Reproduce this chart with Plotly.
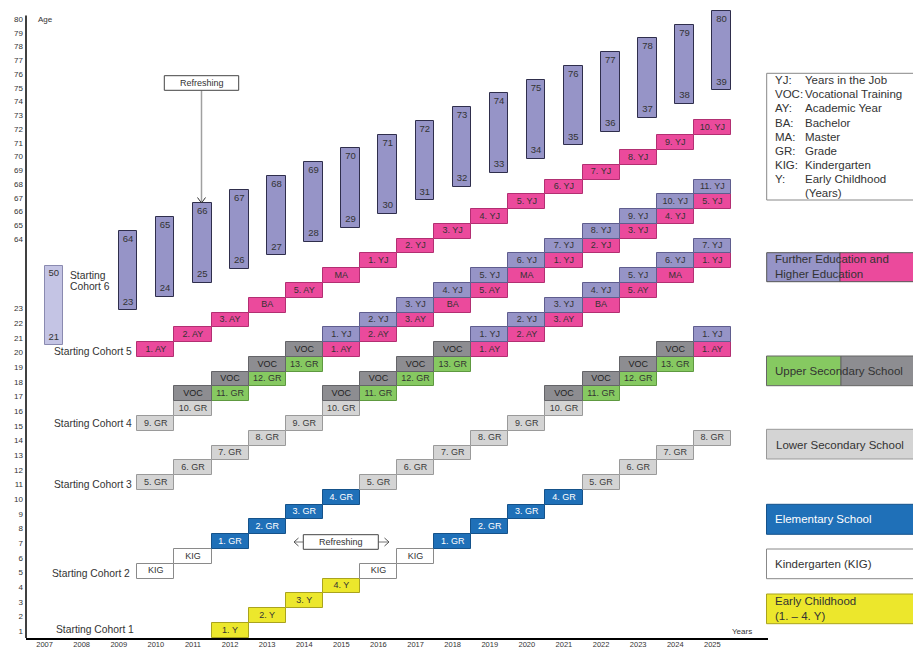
import plotly.graph_objects as go

# ---------------- data ----------------
years = [2007, 2008, 2009, 2010, 2011, 2012, 2013, 2014, 2015, 2016,
         2017, 2018, 2019, 2020, 2021, 2022, 2023, 2024, 2025]
age_ticks_low = list(range(1, 24))
age_ticks_high = list(range(64, 81))

# Cohort 1: main track starts 2012 at age 1
c1_year, c1_age = 2012, 1
c1_stages = ["1. Y", "2. Y", "3. Y", "4. Y", "KIG", "KIG", "1. GR", "2. GR",
             "3. GR", "4. GR", "5. GR", "6. GR", "7. GR", "8. GR"]

# Cohort 2
c2_year, c2_age = 2010, 5
c2_stages = ["KIG", "KIG", "1. GR", "2. GR", "3. GR", "4. GR", "5. GR", "6. GR",
             "7. GR", "8. GR", "9. GR", "10. GR", "11. GR", "12. GR", "13. GR", "1. AY"]
c2_voc_year = 2021
c2_voc_stages = ["VOC", "VOC", "VOC", "VOC", "1. YJ"]

# Cohort 3
c3_year, c3_age = 2010, 11
c3_stages = ["5. GR", "6. GR", "7. GR", "8. GR", "9. GR", "10. GR", "11. GR", "12. GR",
             "13. GR", "1. AY", "2. AY", "3. AY", "BA", "5. AY", "MA", "1. YJ"]
c3_voc_year = 2015
c3_voc_stages = ["VOC", "VOC", "VOC", "VOC", "1. YJ", "2. YJ", "3. YJ", "4. YJ",
                 "5. YJ", "6. YJ", "7. YJ"]

# Cohort 4
c4_year, c4_age = 2010, 15
c4_stages = ["9. GR", "10. GR", "11. GR", "12. GR", "13. GR", "1. AY", "2. AY", "3. AY",
             "BA", "5. AY", "MA", "1. YJ", "2. YJ", "3. YJ", "4. YJ", "5. YJ"]
c4_voc_year = 2011
c4_voc_stages = ["VOC", "VOC", "VOC", "VOC", "1. YJ", "2. YJ", "3. YJ", "4. YJ",
                 "5. YJ", "6. YJ", "7. YJ", "8. YJ", "9. YJ", "10. YJ", "11. YJ"]

# Cohort 5
c5_year, c5_age = 2010, 20
c5_stages = ["1. AY", "2. AY", "3. AY", "BA", "5. AY", "MA", "1. YJ", "2. YJ",
             "3. YJ", "4. YJ", "5. YJ", "6. YJ", "7. YJ", "8. YJ", "9. YJ", "10. YJ"]

# Cohort 6: age ranges of the working population
c6_start_year, c6_start_low, c6_start_high = 2007, 21, 50
job_years = [2009, 2010, 2011, 2012, 2013, 2014, 2015, 2016, 2017,
             2018, 2019, 2020, 2021, 2022, 2023, 2024, 2025]
job_age_low = [23, 24, 25, 26, 27, 28, 29, 30, 31, 32, 33, 34, 35, 36, 37, 38, 39]
job_age_high = [64, 65, 66, 67, 68, 69, 70, 71, 72, 73, 74, 75, 76, 77, 78, 79, 80]

abbr_keys = ["YJ:", "VOC:", "AY:", "BA:", "MA:", "GR:", "KIG:", "Y:", ""]
abbr_vals = ["Years in the Job", "Vocational Training", "Academic Year", "Bachelor",
             "Master", "Grade", "Kindergarten", "Early Childhood", "(Years)"]

# ---------------- styling / layout helpers ----------------
W, H = 913, 649
ML, MR, MT, MB = 26, 145, 7, 11
PW, PH = W - ML - MR, H - MT - MB
ROW0_PX, ROW_PX = 630.3, 14.78
Y0 = 1 - (H - MB - ROW0_PX) / ROW_PX
Y1 = Y0 + PH / ROW_PX
FONT = "Liberation Sans, Arial, sans-serif"
TXT = "#333333"

def px(x):
    return (x - ML) / PW

def py(y):
    return (H - MB - y) / PH

def row_of_px(y):
    return 1 + (ROW0_PX - y) / ROW_PX

def tick_row(a):
    if a <= 23:
        return row_of_px(631.3 - (a - 1) * 14.665)
    return row_of_px(239.0 - (a - 64) * 13.75)

STYLE = {
    "yellow": ("#ece72c", "#a9a31e", TXT),
    "white": ("#ffffff", "#8a8a8a", TXT),
    "blue": ("#1f70b8", "#15528a", "#ffffff"),
    "lgray": ("#d4d4d4", "#9a9a9a", "#3a3a3a"),
    "green": ("#86c961", "#5e9940", TXT),
    "dgray": ("#8d8d91", "#646468", "#222222"),
    "pink": ("#eb4a9c", "#b22f72", TXT),
    "lav": ("#9694c7", "#5f5d8e", TXT),
}

def kind(label, alt):
    parts = label.split()
    last = parts[-1]
    if last == "Y":
        return "yellow"
    if last == "KIG":
        return "white"
    if last == "GR":
        n = int(parts[0].rstrip("."))
        return "blue" if n <= 4 else ("lgray" if n <= 10 else "green")
    if last == "VOC":
        return "dgray"
    if last == "YJ":
        return "lav" if alt else "pink"
    return "pink"

cx, cy, ct, ck = [], [], [], []

def add_track(start_year, start_row, stages, alt):
    for i, s in enumerate(stages):
        cx.append(start_year + i)
        cy.append(start_row + i)
        ct.append(s)
        ck.append(kind(s, alt))

add_track(c1_year, c1_age, c1_stages, False)
add_track(c2_year, c2_age, c2_stages, False)
add_track(c2_voc_year, c2_age + (c2_voc_year - c2_year) + 1, c2_voc_stages, True)
add_track(c3_year, c3_age, c3_stages, False)
add_track(c3_voc_year, c3_age + (c3_voc_year - c3_year) + 1, c3_voc_stages, True)
add_track(c4_year, c4_age, c4_stages, False)
add_track(c4_voc_year, c4_age + (c4_voc_year - c4_year) + 1, c4_voc_stages, True)
add_track(c5_year, c5_age, c5_stages, False)

fig = go.Figure()

# cells
fig.add_trace(go.Bar(
    x=cx, y=[1] * len(cx), base=[r - 0.5 for r in cy], width=1,
    marker=dict(color=[STYLE[k][0] for k in ck],
                line=dict(color=[STYLE[k][1] for k in ck], width=1)),
    hoverinfo="skip", showlegend=False))
fig.add_trace(go.Scatter(
    x=cx, y=cy, text=ct, mode="text",
    textfont=dict(family=FONT, size=9, color=[STYLE[k][2] for k in ck]),
    hoverinfo="skip", showlegend=False))

# working-age bars
BAR_H = 5.38
tops = [tick_row(h) + 0.55 for h in job_age_high]
bases = [t - BAR_H for t in tops]
fig.add_trace(go.Bar(
    x=job_years, y=[BAR_H] * len(job_years), base=bases, width=0.5, offset=0,
    marker=dict(color="#9694c7", line=dict(color="#2f2e4c", width=1)),
    hoverinfo="skip", showlegend=False))
fig.add_trace(go.Scatter(
    x=[y + 0.25 for y in job_years] * 2,
    y=[t - 0.58 for t in tops] + [b + 0.55 for b in bases],
    text=[str(v) for v in job_age_high] + [str(v) for v in job_age_low],
    mode="text", textfont=dict(family=FONT, size=9.5, color=TXT),
    hoverinfo="skip", showlegend=False))

c6_base = tick_row(c6_start_low) - 0.5
fig.add_trace(go.Bar(
    x=[c6_start_year], y=[BAR_H], base=[c6_base], width=0.5, offset=0,
    marker=dict(color="#c4c4e4", line=dict(color="#8a8ab0", width=1)),
    hoverinfo="skip", showlegend=False))
fig.add_trace(go.Scatter(
    x=[c6_start_year + 0.25] * 2,
    y=[c6_base + BAR_H - 0.5, c6_base + 0.5],
    text=[str(c6_start_high), str(c6_start_low)],
    mode="text", textfont=dict(family=FONT, size=9.5, color=TXT),
    hoverinfo="skip", showlegend=False))

shapes = []
ann = []

def text(x, y, s, size=10.3, color=TXT, anchor="left"):
    ann.append(dict(x=px(x), y=py(y), xref="paper", yref="paper", text=s,
                    showarrow=False, xanchor=anchor, yanchor="middle",
                    font=dict(family=FONT, size=size, color=color)))

def rect(x0, y0, x1, y1, fill, line="#555555", lw=1):
    shapes.append(dict(type="rect", xref="paper", yref="paper",
                       x0=px(x0), x1=px(x1), y0=py(y1), y1=py(y0),
                       fillcolor=fill, line=dict(color=line, width=lw), layer="above"))

def seg(x0, y0, x1, y1, color, lw=1):
    shapes.append(dict(type="line", xref="paper", yref="paper",
                       x0=px(x0), x1=px(x1), y0=py(y0), y1=py(y1),
                       line=dict(color=color, width=lw), layer="above"))

# y axis line
seg(ML, 15.5, ML, H - MB, "#000000", 1.5)

# cohort labels
text(54, 629.3, "Starting Cohort 1")
text(50, 573.3, "Starting Cohort 2")
text(52, 484.3, "Starting Cohort 3")
text(51.5, 423.7, "Starting Cohort 4")
text(51.5, 351.3, "Starting Cohort 5")
text(68, 275, "Starting")
text(68, 286.5, "Cohort 6")

text(36, 20, "Age", size=8)
text(742, 631, "Years", size=8, anchor="center")

# refreshing notes
seg(201.5, 90.5, 201.5, 202, "#a0a0a0", 1.5)
seg(197.5, 197.5, 201.5, 203, "#333333", 1)
seg(205.5, 197.5, 201.5, 203, "#333333", 1)
rect(164.3, 75.7, 238.7, 90.3, "#ffffff", "#444444")
text(201.5, 83, "Refreshing", size=9, anchor="center")

seg(303, 542, 294, 542, "#777777", 1)
seg(298.5, 538, 294, 542, "#555555", 1)
seg(298.5, 546, 294, 542, "#555555", 1)
seg(378.3, 542, 389, 542, "#777777", 1)
seg(384.5, 538, 389, 542, "#555555", 1)
seg(384.5, 546, 389, 542, "#555555", 1)
rect(303.3, 534.7, 378.3, 549.3, "#ffffff", "#444444")
text(340.8, 542, "Refreshing", size=9, anchor="center")

# legend: abbreviations
XR = 930
rect(766.7, 73.3, XR, 200, "#ffffff", "#888888")
for i, (k, v) in enumerate(zip(abbr_keys, abbr_vals)):
    yy = 80 + i * 14.17
    if k:
        text(773, yy, k, size=11.5)
    text(802.5, yy, v, size=11.5)

# legend: colour boxes
rect(766.7, 252.7, 840, 281.7, "#9694c7", "#555555")
rect(840, 252.7, XR, 281.7, "#eb4a9c", "#555555")
text(773, 259.3, "Further Education and", size=11.5)
text(773, 273.5, "Higher Education", size=11.5)

rect(766.5, 356, 841, 385.7, "#86c961", "#666666")
rect(841, 356, XR, 385.7, "#8d8d91", "#666666")
text(773, 371, "Upper Secondary School", size=11.5)

rect(766.5, 429.3, XR, 459, "#d4d4d4", "#999999")
text(774, 444.5, "Lower Secondary School", size=11.5)

rect(766.5, 504.3, XR, 534.3, "#1f70b8", "#15528a")
text(773, 519, "Elementary School", size=11.5, color="#ffffff")

rect(766.5, 549, XR, 578.7, "#ffffff", "#888888")
text(773, 564, "Kindergarten (KIG)", size=11.5)

rect(766.5, 594, XR, 623.7, "#ece72c", "#a9a31e")
text(773, 601.3, "Early Childhood", size=11.5)
text(773, 616.3, "(1. \u2013 4. Y)", size=11.5)

fig.update_layout(
    width=W, height=H,
    margin=dict(l=ML, r=MR, t=MT, b=MB, pad=0),
    paper_bgcolor="#ffffff", plot_bgcolor="#ffffff",
    barmode="overlay", bargap=0,
    showlegend=False,
    shapes=shapes, annotations=ann,
    font=dict(family=FONT, color=TXT),
    xaxis=dict(range=[2006.5, 2026.5], tickvals=years, ticktext=[str(y) for y in years],
               showgrid=False, zeroline=False, showline=True, linecolor="#000000",
               linewidth=1.5, ticks="", tickfont=dict(family=FONT, size=7.5, color=TXT),
               ticklabelstandoff=-2, automargin=False, fixedrange=True),
    yaxis=dict(range=[Y0, Y1],
               tickvals=[tick_row(a) for a in age_ticks_low + age_ticks_high],
               ticktext=[str(a) for a in age_ticks_low + age_ticks_high],
               showgrid=False, zeroline=False, showline=False, ticks="",
               tickfont=dict(family=FONT, size=8, color=TXT),
               ticklabelstandoff=2, automargin=False, fixedrange=True),
)

fig.write_html(
    "out.html",
    config={"displayModeBar": False},
    post_script="document.body.style.margin='0';document.body.style.overflow='hidden';",
)
